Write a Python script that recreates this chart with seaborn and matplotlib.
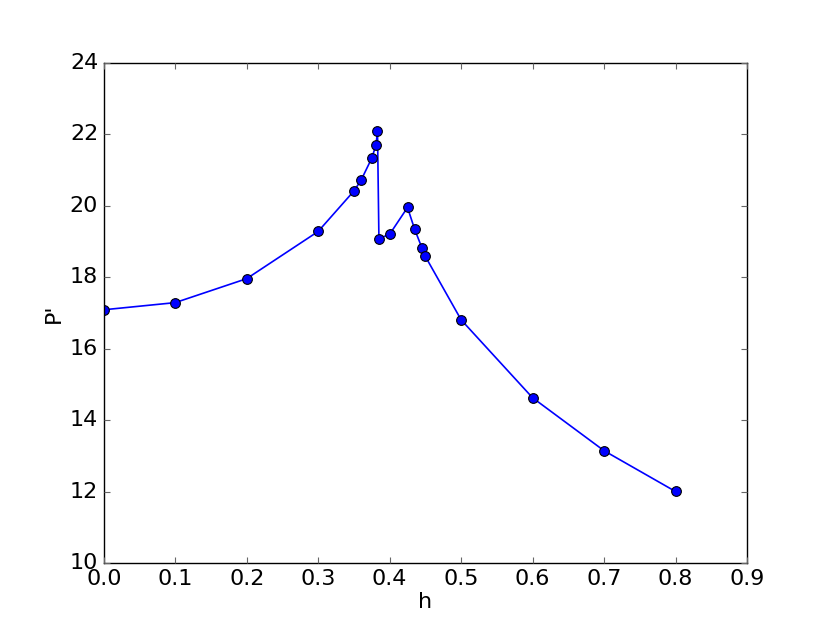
import matplotlib
matplotlib.use("Agg")
import matplotlib.pyplot as plt
import seaborn as sns
import pandas as pd

h = [0.0, 0.1, 0.2, 0.3, 0.35, 0.36, 0.375, 0.381, 0.383, 0.385, 0.4, 0.425,
     0.435, 0.445, 0.45, 0.5, 0.6, 0.7, 0.8]
p = [17.09, 17.29, 17.96, 19.28, 20.41, 20.71, 21.33, 21.70, 22.09, 19.08, 19.20, 19.95,
     19.34, 18.83, 18.58, 16.81, 14.63, 13.15, 12.01]

df = pd.DataFrame({"h": h, "P'": p})

sns.set_style("ticks")
plt.style.use("classic")
plt.rcParams["font.family"] = ["DejaVu Sans"]

fig = plt.figure(figsize=(8.3, 6.26), dpi=100, facecolor="white")
ax = fig.add_axes([0.125, 0.1, 0.775, 0.8])
ax.set_facecolor("white")

sns.lineplot(data=df, x="h", y="P'", sort=False, color="blue", marker="o",
             markersize=7, markerfacecolor="blue", markeredgecolor="black",
             markeredgewidth=0.8, linewidth=1.2, ax=ax)

ax.set_xlim(0.0, 0.9)
ax.set_ylim(10, 24)
ax.set_xticks([0.0, 0.1, 0.2, 0.3, 0.4, 0.5, 0.6, 0.7, 0.8, 0.9])
ax.set_yticks([10, 12, 14, 16, 18, 20, 22, 24])
ax.tick_params(direction="in", top=True, right=True, labelsize=16, length=4,
               width=0.8, color="0.4", pad=4)
ax.set_xlabel("h", fontsize=16, labelpad=2)
ax.set_ylabel("P'", fontsize=16, labelpad=4)
for s in ax.spines.values():
    s.set_color("black")
    s.set_linewidth(1.0)

fig.savefig("out.png", dpi=100, facecolor="white")
